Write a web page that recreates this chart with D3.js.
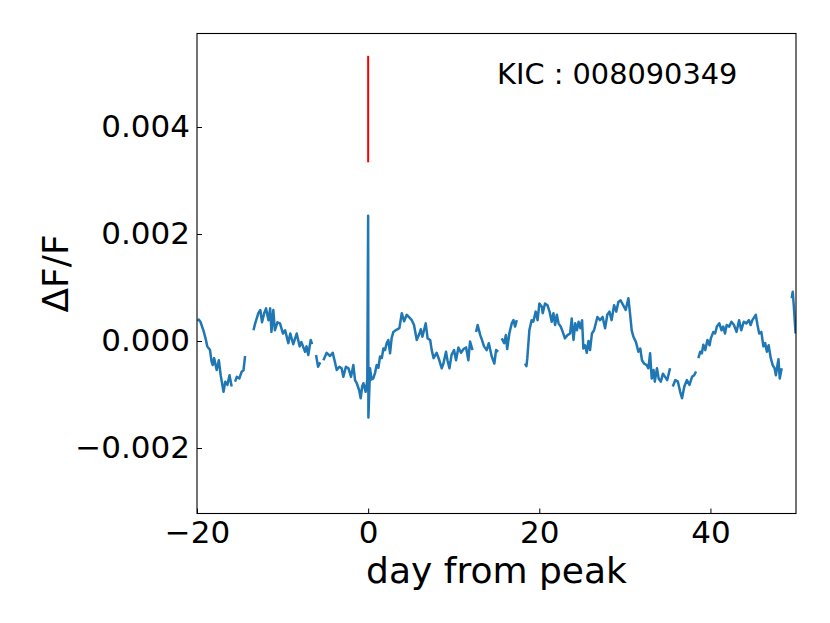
<!DOCTYPE html>
<html>
<head>
<meta charset="utf-8">
<script src="https://cdn.jsdelivr.net/npm/d3@7"></script>
<style>
  body { margin: 0; background: #fff; }
  svg, svg text { font-family: "DejaVu Sans", sans-serif; }
</style>
</head>
<body>
<svg id="canvas" width="830" height="623"></svg>
<script>
// light curve; null marks a gap in the data
let days = [
  -19.9, -19.8, -19.6, -19.25, -19.0, -18.8, -18.48, -18.3, -18.16, -18.0, -17.7, -17.45, -17.23, -16.9, -16.7, -16.45, -16.2, -15.95, null,
  -15.55, -15.35, -15.05, -14.77, -14.57, -14.38, null,
  -13.4, -13.2, -12.83, -12.6, -12.4, -12.15, -11.93, -11.65, -11.45, -11.3, -11.08, -10.9, -10.6, -10.3, -9.95, -9.7, -9.33, -9.1, -8.75, -8.35,
  -8.0, -7.8, -7.37, -7.2, -7.0, -6.71, -6.55, null,
  -6.09, -5.85, -5.6, null,
  -5.23, -4.85, -4.45, -4.14, -3.87, -3.67, -3.36, -3.1, -2.9, -2.6, -2.3, -2.0, -1.73, -1.53, -1.33, -1.05, -0.87, -0.7, -0.55, -0.29, -0.1,
  0.0, 0.03, 0.22, 0.4, 0.6, 0.8, 1.0, 1.2, 1.39, 1.6, 1.78, 1.97, 2.17, 2.36, 2.56, 2.75, 2.95, 3.3, 3.65, 3.93, 4.2, 4.51, 4.75, 5.1, 5.36,
  5.68, 6.0, 6.15, 6.34, 6.73, 6.95, 7.25, 7.43, 7.65, 8.0, 8.32, 8.6, 8.8, 9.1, 9.27, 9.5, 9.75, 10.04, 10.27, 10.55, 10.85, 11.15, 11.45,
  11.71, 11.91, 12.2, null,
  12.61, 12.8, 13.1, 13.3, 13.54, 13.85, 14.1, 14.44, 14.75, 14.95, 15.2, null,
  15.61, 15.9, 16.1, 16.25, 16.5, 16.78, 16.98, 17.17, 17.37, null,
  18.34, 18.5, 18.6, 18.84, 19.1, 19.3, 19.58, 19.8, 20.01, 20.3, 20.4, 20.67, 20.95, 21.2, 21.45, 21.65, 21.85, 22.05, 22.25, 22.5, 22.74,
  23.0, 23.3, 23.6, 23.79, 24.0, 24.2, 24.4, 24.6, 24.8, 25.0, 25.15, 25.35, 25.55, 25.75, 25.93, 26.15, 26.4, 26.79, 27.1, 27.4, 27.69,
  27.95, 28.2, 28.45, 28.74, 29.0, 29.24, 29.5, 29.8, 30.1, 30.41, 30.6, 30.8, 31.0, 31.3, 31.58, 31.8, 32.0, 32.24, 32.55, 32.75, 32.95,
  33.14, 33.35, 33.5, 33.75, 33.95, 34.2, 34.45, 34.7, 34.95, 35.28, null,
  35.6, 35.9, 36.2, 36.45, 36.68, 36.95, 37.25, 37.55, 37.85, 38.1, 38.32, null,
  38.59, 38.8, 39.0, 39.17, 39.4, 39.65, 39.9, 40.05, 40.34, 40.55, 40.75, 41.04, 41.3, 41.5, 41.7, 41.9, 42.2, 42.45, 42.75, 43.05, 43.35,
  43.6, 43.9, 44.2, 44.5, 44.7, 44.9, 45.3, 45.5, 45.7, 45.95, 46.19, 46.4, 46.6, 46.8, 47.05, 47.28, 47.5, 47.65, 47.8, 47.95, 48.1, 48.33, null,
  49.5, 49.62, 49.75, 49.95
];

let flux = [
  0.00037, 0.00040, 0.00036, 0.00020, 0.00005, -0.00010, -0.00017, -0.00038, -0.00045, -0.00032, -0.00054, -0.00036, -0.00064, -0.00095, -0.00076, -0.00082, -0.00064, -0.00085, null,
  -0.00076, -0.00067, -0.00070, -0.00057, -0.00055, -0.00028, null,
  0.00020, 0.00033, 0.00052, 0.00058, 0.00035, 0.00052, 0.00061, 0.00039, 0.00061, 0.00017, 0.00058, 0.00020, 0.00035, 0.00033, 0.00014, 0.00020, -0.00004, 0.00014, -0.00006, 0.00014,
  -0.00010, -0.00002, -0.00020, -0.00010, -0.00026, 0.00002, -0.00006, null,
  -0.00026, -0.00048, -0.00040, null,
  -0.00036, -0.00022, -0.00028, -0.00022, -0.00040, -0.00054, -0.00048, -0.00051, -0.00067, -0.00048, -0.00051, -0.00067, -0.00045, -0.00073, -0.00079, -0.00092, -0.00107, -0.00085, -0.00079, -0.00095, -0.00073,
  0.00234, -0.00143, -0.00051, -0.00072, -0.00070, -0.00060, -0.00045, -0.00050, -0.00029, -0.00032, -0.00014, -0.00017, -0.00004, 0.00002, -0.00023, 0.00006, 0.00017, 0.00021, 0.00024, 0.00052, 0.00037, 0.00049, 0.00045, 0.00039, 0.00030,
  0.00002, 0.00014, 0.00022, 0.00008, 0.00033, 0.00005, 0.00002, -0.00017, -0.00032, -0.00022, -0.00036, -0.00051, -0.00042, -0.00020, -0.00036, -0.00051, -0.00026, -0.00017, -0.00036, -0.00012, -0.00022, -0.00015, -0.00012,
  -0.00036, -0.00001, -0.00017, null,
  0.00017, 0.00030, 0.00011, 0.00002, -0.00010, -0.00017, -0.00004, -0.00029, -0.00042, -0.00017, -0.00020, null,
  0.00005, -0.00004, 0.00011, -0.00015, 0.00014, 0.00033, 0.00039, 0.00027, 0.00039, null,
  -0.00042, -0.00047, -0.00032, 0.00020, 0.00039, 0.00036, 0.00055, 0.00039, 0.00070, 0.00064, 0.00052, 0.00070, 0.00067, 0.00055, 0.00036, 0.00052, 0.00030, 0.00049, 0.00033, 0.00027, 0.00017,
  0.00005, 0.00011, 0.00014, 0.00042, 0.00002, 0.00033, 0.00020, 0.00036, 0.00024, 0.00039, -0.00014, -0.00008, -0.00022, 0.00000, -0.00017, 0.00014, 0.00020, 0.00045, 0.00039, 0.00045, 0.00024,
  0.00049, 0.00055, 0.00039, 0.00067, 0.00055, 0.00073, 0.00076, 0.00067, 0.00058, 0.00080, 0.00052, 0.00020, 0.00008, -0.00002, -0.00020, -0.00014, -0.00036, -0.00042, -0.00045, -0.00051, -0.00023,
  -0.00070, -0.00054, -0.00076, -0.00051, -0.00070, -0.00076, -0.00061, -0.00067, -0.00073, -0.00051, null,
  -0.00085, -0.00073, -0.00076, -0.00094, -0.00107, -0.00085, -0.00073, -0.00082, -0.00067, -0.00064, -0.00057, null,
  -0.00032, -0.00020, -0.00023, -0.00007, -0.00017, 0.00002, -0.00008, 0.00005, 0.00017, 0.00014, 0.00027, 0.00033, 0.00020, 0.00027, 0.00014, 0.00030, 0.00027, 0.00036, 0.00030, 0.00017, 0.00039,
  0.00020, 0.00036, 0.00033, 0.00039, 0.00030, 0.00039, 0.00049, 0.00030, 0.00014, 0.00017, -0.00010, -0.00004, -0.00020, -0.00008, -0.00032, -0.00045, -0.00051, -0.00064, -0.00048, -0.00034, -0.00070, -0.00051, null,
  0.00080, 0.00092, 0.00064, 0.00014
];

// red marker at the flare peak
let peakDay = [0, 0];
let peakFlux = [0.00334, 0.00533];

let xTicks = [-20, 0, 20, 40];
let yTicks = [-0.002, 0.000, 0.002, 0.004];
let starLabel = "KIC : 008090349";

let canvas = d3.select('#canvas');

let margin = { left: 197, top: 33.5, right: 34, bottom: 109.5 };
let width = 830 - margin.left - margin.right;
let height = 623 - margin.top - margin.bottom;

let xScale = d3.scaleLinear().domain([-20, 50]).range([0, width]);
let yScale = d3.scaleLinear().domain([-0.003224, 0.005748]).range([height, 0]);

let fmtMinus = s => s.replace('-', '\u2212');

let plot = canvas.append('g').attr('transform', `translate(${margin.left},${margin.top})`);

plot.append('clipPath').attr('id', 'clip')
  .append('rect').attr('width', width).attr('height', height);

let points = days.map((d, i) => [d, flux[i]]);

let line = d3.line()
  .defined(p => p[0] !== null && p[1] !== null)
  .x(p => xScale(p[0]))
  .y(p => yScale(p[1]));

plot.append('path')
  .datum(points)
  .attr('clip-path', 'url(#clip)')
  .attr('d', line)
  .attr('fill', 'none')
  .attr('stroke', '#1f77b4')
  .attr('stroke-width', 2.5)
  .attr('stroke-linejoin', 'round');

plot.append('path')
  .datum(peakDay.map((d, i) => [d, peakFlux[i]]))
  .attr('d', line)
  .attr('fill', 'none')
  .attr('stroke', '#ff0000')
  .attr('stroke-width', 2);

// axes with inward ticks, like matplotlib direction='in'
let xAxis = d3.axisBottom(xScale).tickValues(xTicks).tickSizeInner(-5).tickSizeOuter(0).tickPadding(7)
  .tickFormat(d => fmtMinus(d3.format('d')(d)));
let yAxis = d3.axisLeft(yScale).tickValues(yTicks).tickSizeInner(-5).tickSizeOuter(0).tickPadding(7)
  .tickFormat(d => fmtMinus(d3.format('.3f')(d)));

let gx = plot.append('g').attr('transform', `translate(0,${height})`).call(xAxis);
let gy = plot.append('g').call(yAxis);

[gx, gy].forEach(g => {
  g.attr('font-family', null);
  g.select('.domain').remove();
  g.selectAll('.tick line').attr('stroke', '#000').attr('stroke-width', 1);
  g.selectAll('.tick text').attr('fill', '#000')
    .style('font-family', '"DejaVu Sans", sans-serif')
    .style('font-size', '31px');
});

// frame
plot.append('rect')
  .attr('width', width).attr('height', height)
  .attr('fill', 'none').attr('stroke', '#000').attr('stroke-width', 1.1);

plot.append('text')
  .attr('x', 300).attr('y', 50)
  .style('font-size', '28.8px')
  .text(starLabel);

canvas.append('text')
  .attr('x', margin.left + width / 2).attr('y', 583)
  .attr('text-anchor', 'middle')
  .style('font-size', '36px')
  .text('day from peak');

canvas.append('text')
  .attr('transform', `translate(68,${margin.top + height / 2}) rotate(-90)`)
  .attr('text-anchor', 'middle')
  .style('font-size', '36px')
  .text('ΔF/F');
</script>
</body>
</html>
